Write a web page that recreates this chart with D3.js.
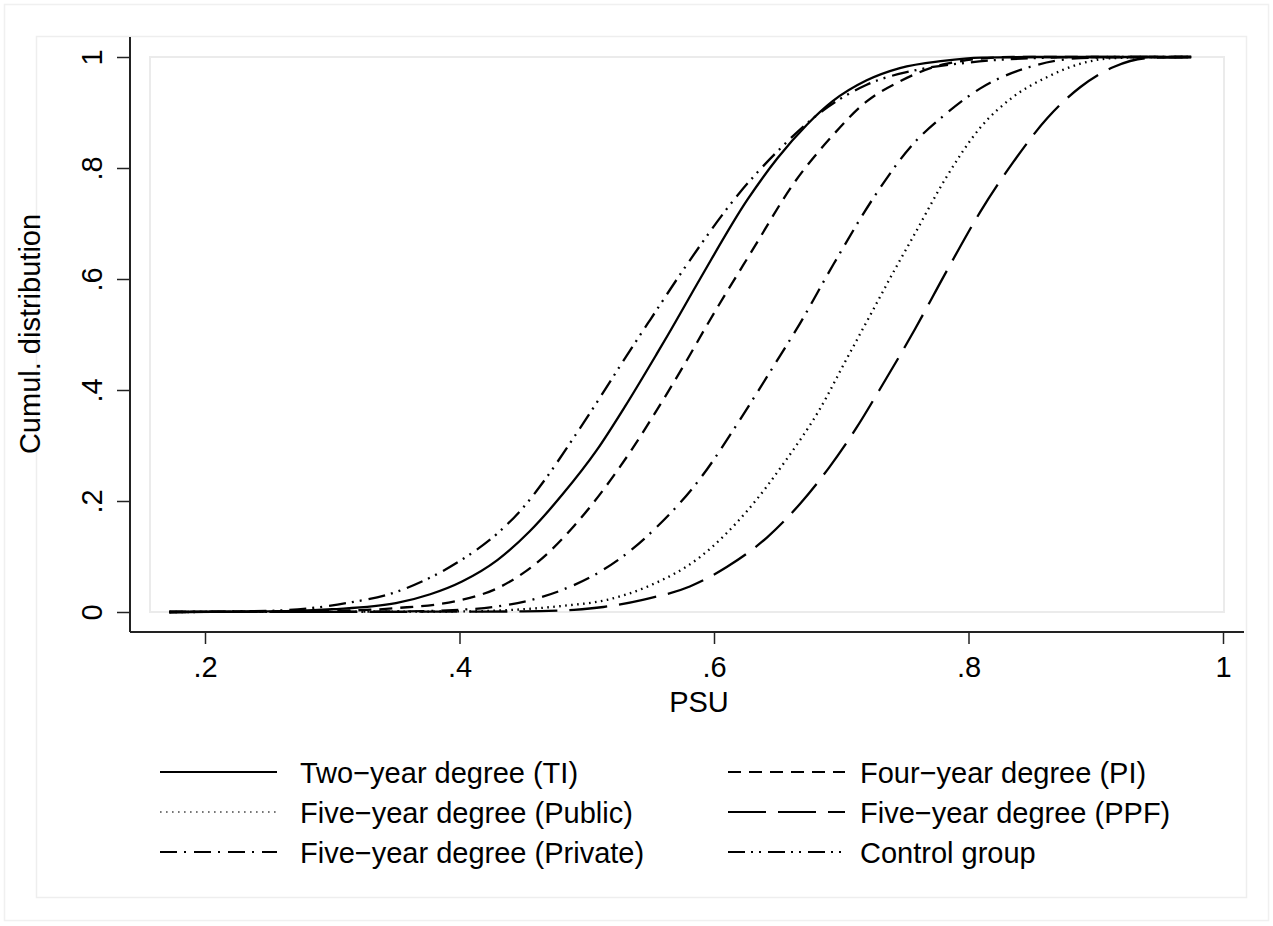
<!DOCTYPE html>
<html><head><meta charset="utf-8">
<script src="https://cdn.jsdelivr.net/npm/d3@7"></script>
<style>
body{margin:0;background:#fff;}
text{font-family:"Liberation Sans",Arial,sans-serif;fill:#000;}
</style></head>
<body>
<svg id="c" width="1273" height="926"></svg>
<script>
// ---- data ----
const seriesNames = ["Two\u2212year degree (TI)","Four\u2212year degree (PI)","Five\u2212year degree (Public)","Five\u2212year degree (PPF)","Five\u2212year degree (Private)","Control group"];
const tiX  = [0.172,0.25,0.30,0.35,0.377,0.402,0.43,0.455,0.481,0.508,0.53,0.555,0.564,0.589,0.626,0.65,0.673,0.693,0.72,0.746,0.78,0.81,0.85,0.975];
const tiY  = [0,0.001,0.005,0.016,0.032,0.055,0.094,0.145,0.212,0.292,0.37,0.465,0.5,0.6,0.742,0.818,0.878,0.92,0.958,0.98,0.993,0.999,1,1];
const piX  = [0.172,0.30,0.35,0.40,0.429,0.45,0.469,0.49,0.513,0.534,0.55,0.579,0.594,0.631,0.662,0.693,0.72,0.746,0.783,0.835,0.975];
const piY  = [0,0.002,0.007,0.021,0.042,0.07,0.105,0.155,0.22,0.288,0.345,0.455,0.515,0.655,0.77,0.858,0.92,0.956,0.988,1,1];
const pubX = [0.172,0.40,0.45,0.481,0.516,0.55,0.589,0.626,0.657,0.683,0.704,0.72,0.744,0.756,0.783,0.809,0.835,0.862,0.888,0.914,0.95,0.975];
const pubY = [0,0.001,0.005,0.011,0.022,0.048,0.099,0.182,0.275,0.365,0.455,0.523,0.625,0.674,0.785,0.872,0.928,0.964,0.988,0.998,1,1];
const ppfX = [0.172,0.45,0.49,0.513,0.544,0.581,0.61,0.642,0.668,0.691,0.712,0.73,0.745,0.758,0.783,0.809,0.835,0.862,0.888,0.914,0.94,0.975];
const ppfY = [0,0.001,0.004,0.009,0.022,0.046,0.081,0.135,0.196,0.262,0.332,0.4,0.458,0.51,0.615,0.72,0.81,0.89,0.946,0.982,0.998,1];
const prvX = [0.172,0.35,0.40,0.43,0.455,0.481,0.51,0.526,0.555,0.589,0.62,0.636,0.652,0.665,0.694,0.725,0.756,0.783,0.809,0.848,0.888,0.93,0.975];
const prvY = [0,0.001,0.004,0.01,0.021,0.04,0.072,0.096,0.153,0.24,0.345,0.403,0.462,0.51,0.627,0.745,0.842,0.899,0.943,0.982,0.998,1,1];
const ctlX = [0.172,0.25,0.311,0.35,0.377,0.403,0.429,0.45,0.467,0.49,0.51,0.53,0.55,0.579,0.62,0.649,0.678,0.72,0.76,0.80,0.85,0.90,0.975];
const ctlY = [0,0.002,0.016,0.036,0.062,0.096,0.14,0.188,0.238,0.315,0.385,0.457,0.527,0.627,0.755,0.828,0.89,0.95,0.977,0.99,0.998,1,1];
const xTicks = [0.2,0.4,0.6,0.8,1];
const yTicks = [0,0.2,0.4,0.6,0.8,1];

const svg = d3.select("#c");
const x = d3.scaleLinear().domain([0.2,1]).range([205,1223]);
const y = d3.scaleLinear().domain([0,1]).range([612,57]);
const fmt = d => d===0?"0":d===1?"1":d3.format(".1f")(d).replace(/^0/,"");

// borders
svg.append("rect").attr("x",4.5).attr("y",4.5).attr("width",1264).attr("height",916)
  .attr("fill","none").attr("stroke","#f0f0f0").attr("stroke-width",1.5);
svg.append("rect").attr("x",36.5).attr("y",36.5).attr("width",1210).attr("height",861)
  .attr("fill","none").attr("stroke","#eeeeee").attr("stroke-width",1.5);
svg.append("rect").attr("x",150).attr("y",57).attr("width",1074).attr("height",555)
  .attr("fill","none").attr("stroke","#ebebeb").attr("stroke-width",2);

// axes
const xa = svg.append("g").attr("transform","translate(0,632)")
  .call(d3.axisBottom(x).tickValues(xTicks).tickFormat(fmt).tickSize(12).tickPadding(8));
const ya = svg.append("g").attr("transform","translate(130,0)")
  .call(d3.axisLeft(y).tickValues(yTicks).tickFormat(fmt).tickSize(13));
[xa,ya].forEach(g=>{g.select(".domain").remove();g.selectAll("line").attr("stroke","#222").attr("stroke-width",1.5);});
xa.selectAll("text").attr("font-size",29).attr("dy",null).attr("y",45).attr("font-family","Liberation Sans, Arial");
ya.selectAll("text").attr("font-size",29).attr("font-family","Liberation Sans, Arial")
  .attr("x",null).attr("dy",null).attr("text-anchor","middle")
  .attr("transform","translate(-28,0) rotate(-90)");
svg.append("line").attr("x1",130).attr("x2",1244).attr("y1",632).attr("y2",632).attr("stroke","#222").attr("stroke-width",2);
svg.append("line").attr("x1",130).attr("x2",130).attr("y1",37).attr("y2",632).attr("stroke","#222").attr("stroke-width",2);

svg.append("text").attr("x",699).attr("y",712).attr("text-anchor","middle").attr("font-size",29).text("PSU");
svg.append("text").attr("transform","translate(40,334) rotate(-90)").attr("text-anchor","middle").attr("font-size",29).text("Cumul. distribution");

// series
const dashes = ["none","13,8","1.6,4.4","38,12","17,7,2,8","17,6,2,6,2,7"];
const xs=[tiX,piX,pubX,ppfX,prvX,ctlX], ys=[tiY,piY,pubY,ppfY,prvY,ctlY];
const line = d3.line().x(d=>x(d[0])).y(d=>y(d[1])).curve(d3.curveMonotoneX);
xs.forEach((xv,i)=>{
  const pts = xv.map((v,j)=>[v,ys[i][j]]);
  svg.append("path").attr("d",line(pts)).attr("fill","none").attr("stroke","#000")
    .attr("stroke-width",2.3).attr("stroke-dasharray",dashes[i]);
});

// legend
const legPos = [[160,772],[728,772],[160,812],[728,812],[160,852],[728,852]];
seriesNames.forEach((n,i)=>{
  const [lx,ly]=legPos[i];
  svg.append("line").attr("x1",lx).attr("x2",lx+117).attr("y1",ly).attr("y2",ly)
    .attr("stroke",i===2?"#777":"#000").attr("stroke-width",2.2).attr("stroke-dasharray",dashes[i]);
  svg.append("text").attr("x",lx+(i%2===0?140:132)).attr("y",ly+11).attr("font-size",29).text(n);
});
</script>
</body></html>
